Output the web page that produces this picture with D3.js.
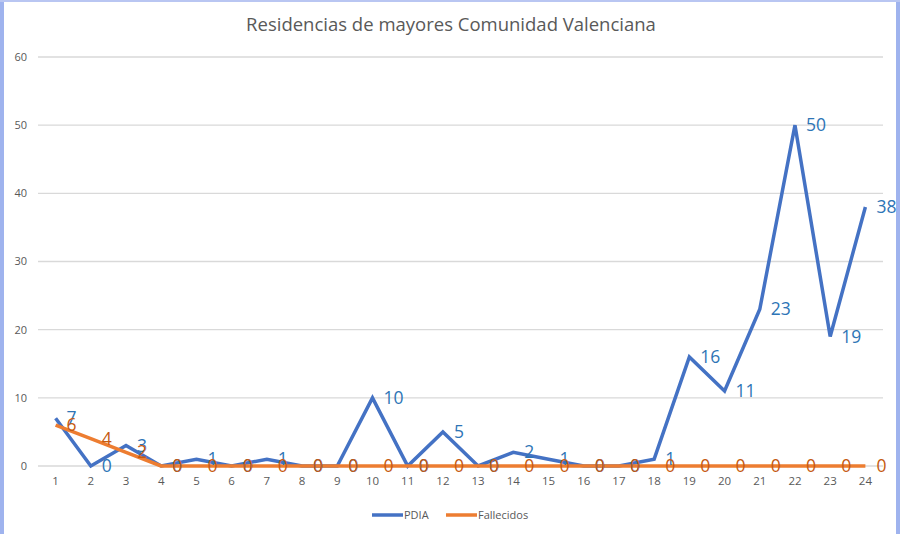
<!DOCTYPE html>
<html><head><meta charset="utf-8">
<script src="https://cdn.jsdelivr.net/npm/d3@7"></script>
<style>body{margin:0;background:#fff;} svg{display:block;}</style>
</head><body>
<svg id="c" width="900" height="534"></svg>
<script>
const categories = ["1","2","3","4","5","6","7","8","9","10","11","12","13","14","15","16","17","18","19","20","21","22","23","24"];
const pdia = [7,0,3,0,1,0,1,0,0,10,0,5,0,2,1,0,0,1,16,11,23,50,19,38];
const fallecidos = [6,4,2,0,0,0,0,0,0,0,0,0,0,0,0,0,0,0,0,0,0,0,0,0];
const yTicks = [0,10,20,30,40,50,60];
const title = "Residencias de mayores Comunidad Valenciana";
const seriesNames = ["PDIA","Fallecidos"];

const svg = d3.select("#c");
const font = "'Open Sans', sans-serif";
// frame
svg.append("rect").attr("x",0).attr("y",0).attr("width",900).attr("height",534).attr("fill","#fff");
svg.append("rect").attr("x",0).attr("y",0).attr("width",4).attr("height",534).attr("fill","#9fb3ee");
svg.append("rect").attr("x",896).attr("y",0).attr("width",4).attr("height",534).attr("fill","#9fb3ee");
svg.append("rect").attr("x",0).attr("y",0).attr("width",900).attr("height",2).attr("fill","#b9c6f2");

const x = d3.scaleBand().domain(categories).range([38,883]);
const y = d3.scaleLinear().domain([0,60]).range([466,57]);
const cx = d => x(d) + x.bandwidth()/2;

// gridlines
svg.append("g").selectAll("line").data(yTicks).join("line")
  .attr("x1",38).attr("x2",883).attr("y1",d=>y(d)).attr("y2",d=>y(d))
  .attr("stroke","#d9d9d9").attr("stroke-width",1.3);

// y labels
svg.append("g").selectAll("text").data(yTicks).join("text")
  .attr("x",27).attr("y",d=>y(d)).attr("dy","0.35em").attr("text-anchor","end")
  .attr("font-family",font).attr("font-size",11).attr("fill","#595959").text(d=>d);

// x labels
const xAxis = d3.axisBottom(x).tickSize(0).tickPadding(0);
const gx = svg.append("g").attr("transform","translate(0,477)").call(xAxis);
gx.select(".domain").remove();
gx.selectAll("text").attr("font-family",font).attr("font-size",11.5).attr("fill","#595959");

// title
svg.append("text").attr("x",451).attr("y",25).attr("dy","0.35em").attr("text-anchor","middle")
  .attr("font-family",font).attr("font-size",18.5).attr("fill","#595959").text(title);

const line = d3.line().x((d,i)=>cx(categories[i])).y(d=>y(d));
svg.append("path").datum(pdia).attr("d",line).attr("fill","none")
  .attr("stroke","#4472c4").attr("stroke-width",3.5).attr("stroke-linejoin","miter");
svg.append("path").datum(fallecidos).attr("d",line).attr("fill","none")
  .attr("stroke","#ed7d31").attr("stroke-width",3.5).attr("stroke-linejoin","round");

// labels
function labels(data,color){
  svg.append("g").selectAll("text").data(data).join("text")
    .attr("x",(d,i)=>cx(categories[i])+11).attr("y",d=>y(d)).attr("dy","0.35em")
    .attr("font-family",font).attr("font-size",17.5).attr("fill",color).text(d=>d);
}
labels(pdia,"#2e75b6");
labels(fallecidos,"#c55a11");

// legend
const legend = [{name:seriesNames[0],color:"#4472c4",x:372},{name:seriesNames[1],color:"#ed7d31",x:446}];
const lg = svg.append("g").selectAll("g").data(legend).join("g");
lg.append("line").attr("x1",d=>d.x).attr("x2",d=>d.x+31).attr("y1",515).attr("y2",515)
  .attr("stroke",d=>d.color).attr("stroke-width",3.5);
lg.append("text").attr("x",d=>d.x+32).attr("y",515).attr("dy","0.35em")
  .attr("font-family",font).attr("font-size",11).attr("fill","#595959").text(d=>d.name);
</script>
</body></html>
